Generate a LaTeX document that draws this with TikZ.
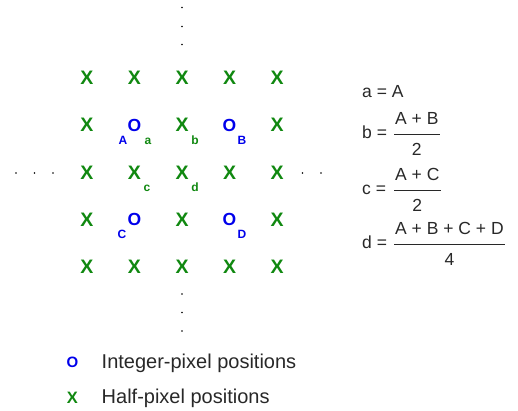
\documentclass[tikz,border=0pt]{standalone}
\usepackage{fontspec}
\setmainfont{Liberation Sans}
\usepackage{tikz}
\definecolor{intblue}{RGB}{0, 0, 235}
\definecolor{halfgreen}{RGB}{16, 136, 16}
\definecolor{eqgray}{RGB}{40, 40, 40}

\tikzset{
  halfpel/.style={text=halfgreen, font=\fontsize{19.5}{21}\selectfont\bfseries, inner sep=0pt},
  intpel/.style={text=intblue, font=\fontsize{17.5}{19}\selectfont\bfseries, inner sep=0pt},
  sublbl/.style={font=\fontsize{12}{13}\selectfont\bfseries, inner sep=0pt, anchor=base},
  eqtext/.style={text=eqgray, font=\fontsize{17.5}{19}\selectfont, inner sep=0pt},
  numer/.style={eqtext, inner xsep=1pt, inner ysep=9.5pt, anchor=south west},
  denom/.style={eqtext, inner ysep=8.5pt, anchor=north},
  fracbar/.style={draw=eqgray, line width=0.9pt},
  legtext/.style={text=eqgray, font=\fontsize{20}{22}\selectfont, inner sep=0pt, anchor=base west},
  gdot/.style={circle, fill=black, inner sep=0pt, minimum size=1.8pt}
}

\begin{document}
\begin{tikzpicture}[x=1pt, y=-1pt]
  \useasboundingbox (0,0) rectangle (518,410);

  % half-pixel samples on the 5x5 grid
  \foreach \c/\r in {1/1,2/1,3/1,4/1,5/1, 1/2,3/2,5/2, 1/3,2/3,3/3,4/3,5/3,
                     1/4,3/4,5/4, 1/5,2/5,3/5,4/5,5/5}
    \node[halfpel] (h\c\r) at ({87+47.5*(\c-1)}, {78+47.25*(\r-1)}) {X};

  % integer-pixel samples
  \node[intpel] (pA) at (134.5, 125.25) {O};
  \node[intpel] (pB) at (229.5, 125.25) {O};
  \node[intpel] (pC) at (134.5, 219.75) {O};
  \node[intpel] (pD) at (229.5, 219.75) {O};

  % labels next to the samples
  \node[sublbl, text=intblue]   (lA) at (123, 144) {A};
  \node[sublbl, text=halfgreen] (la) at (148, 144) {a};
  \node[sublbl, text=halfgreen] (lb) at (195, 144) {b};
  \node[sublbl, text=intblue]   (lB) at (242, 144) {B};
  \node[sublbl, text=halfgreen] (lc) at (147, 191) {c};
  \node[sublbl, text=halfgreen] (ld) at (195, 191) {d};
  \node[sublbl, text=intblue]   (lC) at (122, 238) {C};
  \node[sublbl, text=intblue]   (lD) at (242, 238) {D};

  % continuation dots
  \foreach \y [count=\i] in {7.5, 26.5, 44.5}
    \node[gdot] (top\i) at (182, \y) {};
  \foreach \y [count=\i] in {294, 312.5, 331}
    \node[gdot] (bot\i) at (182, \y) {};
  \foreach \x [count=\i] in {16, 34.5, 53}
    \node[gdot] (lft\i) at (\x, 173) {};
  \foreach \x [count=\i] in {302.5, 321}
    \node[gdot] (rgt\i) at (\x, 173) {};

  % interpolation formulas
  \node[eqtext, anchor=base west] (eqa) at (362, 97) {a = A};

  \node[eqtext, anchor=base west] (eqb) at (362, 138.5) {b =};
  \node[numer] (nb) at (394, 134.5) {A + B};
  \node[denom] (db) at (nb.south) {2};
  \draw[fracbar] (nb.south west) -- (nb.south east);

  \node[eqtext, anchor=base west] (eqc) at (362, 194.5) {c =};
  \node[numer] (nc) at (394, 190.5) {A + C};
  \node[denom] (dc) at (nc.south) {2};
  \draw[fracbar] (nc.south west) -- (nc.south east);

  \node[eqtext, anchor=base west] (eqd) at (362, 248.5) {d =};
  \node[numer] (nd) at (394, 244.5) {A + B + C + D};
  \node[denom] (dd) at (nd.south) {4};
  \draw[fracbar] (nd.south west) -- (nd.south east);

  % legend
  \node[intpel, font=\fontsize{15}{16}\selectfont\bfseries] (keyO) at (72.5, 362) {O};
  \node[halfpel, font=\fontsize{16.5}{18}\selectfont\bfseries] (keyX) at (72.5, 397.5) {X};
  \node[legtext] (keyOtxt) at (101.5, 368.5) {Integer-pixel positions};
  \node[legtext] (keyXtxt) at (101.5, 403) {Half-pixel positions};
\end{tikzpicture}
\end{document}
